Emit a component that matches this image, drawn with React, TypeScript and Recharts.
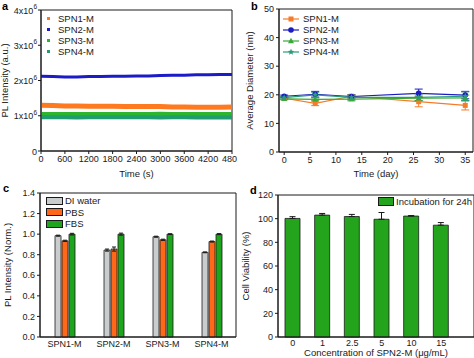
import React from "react";
import {
  LineChart,
  Line,
  BarChart,
  Bar,
  XAxis,
  YAxis,
  CartesianGrid,
  ErrorBar,
  Legend,
} from "recharts";

const FONT = "'Liberation Sans', Arial, sans-serif";
const INK = "#1a1a1a";

// a: PL intensity over time (x10^6)
const timeSec = [0, 300, 600, 900, 1200, 1500, 1800, 2100, 2400, 2700, 3000, 3300, 3600, 3900, 4200, 4500, 4800];
const spn1Pl = [1.3, 1.29, 1.28, 1.28, 1.27, 1.27, 1.27, 1.26, 1.26, 1.26, 1.26, 1.25, 1.25, 1.24, 1.24, 1.24, 1.25];
const spn2Pl = [2.12, 2.11, 2.1, 2.1, 2.11, 2.11, 2.12, 2.12, 2.13, 2.13, 2.14, 2.15, 2.15, 2.16, 2.16, 2.17, 2.17];
const spn3Pl = [1.05, 1.05, 1.05, 1.05, 1.05, 1.05, 1.05, 1.05, 1.05, 1.05, 1.06, 1.05, 1.05, 1.05, 1.05, 1.05, 1.05];
const spn4Pl = [0.96, 0.96, 0.96, 0.95, 0.96, 0.96, 0.96, 0.96, 0.96, 0.96, 0.95, 0.96, 0.96, 0.95, 0.95, 0.95, 0.95];
const timeTicks = [0, 600, 1200, 1800, 2400, 3000, 3600, 4200, 4800];
const timeMinor = [300, 900, 1500, 2100, 2700, 3300, 3900, 4500];
const plTicks = [0, 1, 2, 3, 4];
const plMinor = [0.5, 1.5, 2.5, 3.5];

// b: average diameter over days
const days = [0, 6, 13, 26, 35];
const spn1Dia = [18.8, 17.0, 19.5, 17.6, 16.3];
const spn1Err = [0.5, 0.8, 0.6, 1.8, 1.6];
const spn2Dia = [19.5, 20.2, 19.4, 20.5, 19.9];
const spn2Err = [0.4, 1.0, 0.5, 1.5, 1.3];
const spn3Dia = [18.6, 18.4, 18.5, 18.8, 18.9];
const spn3Err = [0.3, 0.5, 0.6, 0.8, 1.0];
const spn4Dia = [19.0, 20.0, 19.1, 19.1, 19.5];
const spn4Err = [0.4, 0.9, 0.8, 1.2, 1.5];
const dayTicks = [0, 5, 10, 15, 20, 25, 30, 35];
const dayMinor = [2.5, 7.5, 12.5, 17.5, 22.5, 27.5, 32.5];
const diaTicks = [0, 10, 20, 30, 40, 50];
const diaMinor = [5, 15, 25, 35, 45];

// c: normalised PL in media
const samples = ["SPN1-M", "SPN2-M", "SPN3-M", "SPN4-M"];
const diWater = [0.985, 0.845, 0.975, 0.823];
const diWaterErr = [0.005, 0.01, 0.005, 0.004];
const pbs = [0.935, 0.855, 0.945, 0.928];
const pbsErr = [0.006, 0.02, 0.006, 0.005];
const fbs = [1.0, 1.0, 1.0, 1.0];
const fbsErr = [0.008, 0.01, 0.004, 0.005];
const normTicks = [0, 0.2, 0.4, 0.6, 0.8, 1.0, 1.2, 1.4];
const normMinor = [0.1, 0.3, 0.5, 0.7, 0.9, 1.1, 1.3];

// d: cell viability
const concentrations = ["0", "1", "2.5", "5", "10", "15"];
const viability = [100.2, 103, 101.8, 99.5, 102.2, 94.5];
const viabilityErr = [1.5, 1.4, 1.8, 5.7, 0.4, 2.2];
const viaTicks = [0, 20, 40, 60, 80, 100, 120];
const viaMinor = [10, 30, 50, 70, 90, 110];

const seriesA = [
  { key: "s1", name: "SPN1-M", color: "#ff7a1f", values: spn1Pl, width: 5 },
  { key: "s2", name: "SPN2-M", color: "#1b1bc8", values: spn2Pl, width: 3 },
  { key: "s3", name: "SPN3-M", color: "#2db52d", values: spn3Pl, width: 4 },
  { key: "s4", name: "SPN4-M", color: "#1f9c70", values: spn4Pl, width: 4 },
];

const seriesB = [
  { key: "s1", name: "SPN1-M", color: "#f57b28", values: spn1Dia, err: spn1Err, shape: "square" },
  { key: "s2", name: "SPN2-M", color: "#1c1cc0", values: spn2Dia, err: spn2Err, shape: "circle" },
  { key: "s3", name: "SPN3-M", color: "#38a838", values: spn3Dia, err: spn3Err, shape: "triangle" },
  { key: "s4", name: "SPN4-M", color: "#2a9a7c", values: spn4Dia, err: spn4Err, shape: "star" },
];

const seriesC = [
  { key: "di", name: "DI water", color: "#c9cdcd", values: diWater, err: diWaterErr },
  { key: "pbs", name: "PBS", color: "#ff6818", values: pbs, err: pbsErr },
  { key: "fbs", name: "FBS", color: "#1ea51e", values: fbs, err: fbsErr },
];

const dataA = timeSec.map((t, i) => {
  const row: any = { t };
  seriesA.forEach((s) => (row[s.key] = s.values[i]));
  return row;
});

const dataB = days.map((d, i) => {
  const row: any = { d };
  seriesB.forEach((s) => {
    row[s.key] = s.values[i];
    row[s.key + "e"] = s.err[i];
  });
  return row;
});

const dataC = samples.map((name, i) => {
  const row: any = { name };
  seriesC.forEach((s) => {
    row[s.key] = s.values[i];
    row[s.key + "e"] = s.err[i];
  });
  return row;
});

const dataD = concentrations.map((c, i) => ({
  c,
  v: viability[i],
  e: [0, viabilityErr[i]],
}));

const tickStyle = { fontSize: 9, fill: INK, fontFamily: FONT };
const titleStyle = { fontSize: 9.5, fill: INK, fontFamily: FONT };
const axisLine = { stroke: INK, strokeWidth: 1 };

// box round the plot area
const frameH = ({ offset }: any) => [offset.top, offset.top + offset.height];
const frameV = ({ offset }: any) => [offset.left, offset.left + offset.width];

function frame() {
  return (
    <CartesianGrid
      horizontalCoordinatesGenerator={frameH}
      verticalCoordinatesGenerator={frameV}
      stroke={INK}
      strokeWidth={1}
      fill="none"
    />
  );
}

// unlabelled axes that only carry the minor ticks
function minorX(domain: number[], ticks: number[]) {
  return (
    <XAxis
      xAxisId="minor"
      type="number"
      domain={domain}
      allowDataOverflow
      ticks={ticks}
      interval={0}
      tick={false}
      axisLine={false}
      tickLine={axisLine}
      tickSize={2}
      height={0}
    />
  );
}

function minorY(domain: number[], ticks: number[]) {
  return (
    <YAxis
      yAxisId="minor"
      type="number"
      domain={domain}
      allowDataOverflow
      ticks={ticks}
      interval={0}
      tick={false}
      axisLine={false}
      tickLine={axisLine}
      tickSize={2}
      width={0}
    />
  );
}

function SciTick({ x, y, payload }: any) {
  const v = payload.value;
  return (
    <text x={x} y={y} dy={3.5} textAnchor="end" style={tickStyle}>
      {v === 0 ? (
        "0"
      ) : (
        <>
          <tspan>{v}x10</tspan>
          <tspan dy={-4.5} fontSize={6.5}>
            6
          </tspan>
        </>
      )}
    </text>
  );
}

function Marker({ cx, cy, color, shape }: any) {
  if (cx == null || cy == null) return null;
  if (shape === "square") return <rect x={cx - 2.5} y={cy - 2.5} width={5} height={5} fill={color} />;
  if (shape === "circle") return <circle cx={cx} cy={cy} r={2.8} fill={color} />;
  if (shape === "triangle")
    return <polygon points={`${cx},${cy - 3.2} ${cx + 3},${cy + 2.2} ${cx - 3},${cy + 2.2}`} fill={color} />;
  const pts: string[] = [];
  for (let k = 0; k < 10; k++) {
    const r = k % 2 === 0 ? 3.4 : 1.5;
    const a = (Math.PI / 5) * k - Math.PI / 2;
    pts.push(`${cx + r * Math.cos(a)},${cy + r * Math.sin(a)}`);
  }
  return <polygon points={pts.join(" ")} fill={color} />;
}

const legendText = {
  fontSize: 9.5,
  color: INK,
  fontFamily: FONT,
  lineHeight: "11px",
  whiteSpace: "nowrap" as const,
};

function LegendA() {
  return (
    <div style={legendText}>
      {seriesA.map((s) => (
        <div key={s.key} style={{ display: "flex", alignItems: "center", height: 11 }}>
          <span style={{ width: 3, height: 3, background: s.color, marginRight: 8 }} />
          {s.name}
        </div>
      ))}
    </div>
  );
}

function LegendB() {
  return (
    <div style={legendText}>
      {seriesB.map((s) => (
        <div key={s.key} style={{ display: "flex", alignItems: "center", height: 11 }}>
          <svg width={16} height={10} style={{ marginRight: 4 }}>
            <line x1={0} x2={16} y1={5} y2={5} stroke={s.color} strokeWidth={1.2} />
            <Marker cx={8} cy={5} color={s.color} shape={s.shape} />
          </svg>
          {s.name}
        </div>
      ))}
    </div>
  );
}

function LegendC() {
  return (
    <div style={legendText}>
      {seriesC.map((s) => (
        <div key={s.key} style={{ display: "flex", alignItems: "center", height: 11.5 }}>
          <span
            style={{
              width: 15,
              height: 6,
              background: s.color,
              border: `1px solid ${INK}`,
              marginRight: 2,
            }}
          />
          {s.name}
        </div>
      ))}
    </div>
  );
}

function LegendD() {
  return (
    <div style={{ ...legendText, display: "flex", alignItems: "center" }}>
      <span
        style={{
          width: 14,
          height: 7,
          background: "#23a41c",
          border: `1px solid ${INK}`,
          marginRight: 2,
        }}
      />
      Incubation for 24h
    </div>
  );
}

const panelLetter = (left: number, top: number, ch: string) => (
  <div
    style={{
      position: "absolute",
      left,
      top,
      fontFamily: FONT,
      fontWeight: "bold",
      fontSize: 11,
      lineHeight: "11px",
      color: "#000",
    }}
  >
    {ch}
  </div>
);

export default function App() {
  return (
    <div
      style={{
        position: "absolute",
        left: 0,
        top: 0,
        width: 474,
        height: 358,
        background: "#fff",
        overflow: "hidden",
      }}
    >
      {/* a */}
      <div style={{ position: "absolute", left: 0, top: 0 }}>
        <LineChart width={237} height={180} data={dataA} margin={{ top: 10, right: 5, bottom: 0, left: 0 }}>
          {frame()}
          {minorX([0, 4800], timeMinor)}
          {minorY([0, 4], plMinor)}
          <XAxis
            dataKey="t"
            type="number"
            domain={[0, 4800]}
            ticks={timeTicks}
            interval={0}
            tick={tickStyle}
            axisLine={axisLine}
            tickLine={axisLine}
            tickSize={3}
            tickMargin={2}
            height={29}
            label={{ value: "Time (s)", position: "insideBottom", offset: 3, style: titleStyle }}
          />
          <YAxis
            type="number"
            domain={[0, 4]}
            ticks={plTicks}
            interval={0}
            tick={<SciTick />}
            axisLine={axisLine}
            tickLine={axisLine}
            tickSize={3}
            tickMargin={1}
            width={41}
            label={{
              value: "PL Intensity (a.u.)",
              angle: -90,
              position: "insideLeft",
              offset: 5,
              style: { ...titleStyle, textAnchor: "middle" },
            }}
          />
          {seriesA.map((s) => (
            <Line
              key={s.key}
              dataKey={s.key}
              name={s.name}
              stroke={s.color}
              strokeWidth={s.width}
              dot={false}
              isAnimationActive={false}
            />
          ))}
          <Legend
            layout="vertical"
            align="center"
            verticalAlign="middle"
            content={<LegendA />}
            wrapperStyle={{ left: 47, top: 13, width: "auto" }}
          />
        </LineChart>
      </div>

      {/* b */}
      <div style={{ position: "absolute", left: 237, top: 0 }}>
        <LineChart width={237} height={180} data={dataB} margin={{ top: 9, right: 1, bottom: 0, left: 0 }}>
          {frame()}
          {minorX([-1, 36.5], dayMinor)}
          {minorY([0, 50], diaMinor)}
          <XAxis
            dataKey="d"
            type="number"
            domain={[-1, 36.5]}
            allowDataOverflow
            ticks={dayTicks}
            interval={0}
            tick={tickStyle}
            axisLine={axisLine}
            tickLine={axisLine}
            tickSize={3}
            tickMargin={2}
            height={28}
            label={{ value: "Time (day)", position: "insideBottom", offset: 3, style: titleStyle }}
          />
          <YAxis
            type="number"
            domain={[0, 50]}
            ticks={diaTicks}
            interval={0}
            tick={tickStyle}
            axisLine={axisLine}
            tickLine={axisLine}
            tickSize={3}
            tickMargin={2}
            width={42}
            label={{
              value: "Average Diameter (nm)",
              angle: -90,
              position: "insideLeft",
              offset: 13,
              style: { ...titleStyle, textAnchor: "middle" },
            }}
          />
          {seriesB.map((s) => (
            <Line
              key={s.key}
              dataKey={s.key}
              name={s.name}
              stroke={s.color}
              strokeWidth={1.2}
              dot={(p: any) => <Marker key={p.index} cx={p.cx} cy={p.cy} color={s.color} shape={s.shape} />}
              isAnimationActive={false}
            >
              <ErrorBar dataKey={s.key + "e"} width={4} stroke={s.color} strokeWidth={1} direction="y" />
            </Line>
          ))}
          <Legend
            layout="vertical"
            align="center"
            verticalAlign="middle"
            content={<LegendB />}
            wrapperStyle={{ left: 46, top: 13, width: "auto" }}
          />
        </LineChart>
      </div>

      {/* c */}
      <div style={{ position: "absolute", left: 0, top: 175 }}>
        <BarChart
          width={237}
          height={183}
          data={dataC}
          margin={{ top: 18, right: 1, bottom: 0, left: 0 }}
          barSize={6}
          barGap={1}
        >
          {frame()}
          {minorY([0, 1.4], normMinor)}
          <XAxis
            dataKey="name"
            tick={tickStyle}
            axisLine={axisLine}
            tickLine={false}
            tickSize={0}
            tickMargin={4}
            height={21}
          />
          <YAxis
            type="number"
            domain={[0, 1.4]}
            ticks={normTicks}
            interval={0}
            tickFormatter={(v: number) => v.toFixed(1)}
            tick={tickStyle}
            axisLine={axisLine}
            tickLine={axisLine}
            tickSize={3}
            tickMargin={2}
            width={40}
            label={{
              value: "PL Intensity (Norm.)",
              angle: -90,
              position: "insideLeft",
              offset: 8,
              style: { ...titleStyle, textAnchor: "middle" },
            }}
          />
          {seriesC.map((s) => (
            <Bar
              key={s.key}
              dataKey={s.key}
              name={s.name}
              fill={s.color}
              stroke={INK}
              strokeWidth={0.8}
              isAnimationActive={false}
            >
              <ErrorBar dataKey={s.key + "e"} width={2} stroke={INK} strokeWidth={1} />
            </Bar>
          ))}
          <Legend
            layout="vertical"
            align="center"
            verticalAlign="middle"
            content={<LegendC />}
            wrapperStyle={{ left: 46, top: 20, width: "auto" }}
          />
        </BarChart>
      </div>

      {/* d */}
      <div style={{ position: "absolute", left: 237, top: 175 }}>
        <BarChart
          width={237}
          height={183}
          data={dataD}
          margin={{ top: 20, right: 0, bottom: 0, left: 0 }}
          barSize={15}
        >
          {frame()}
          {minorY([0, 120], viaMinor)}
          <XAxis
            dataKey="c"
            tick={tickStyle}
            axisLine={axisLine}
            tickLine={false}
            tickSize={0}
            tickMargin={3}
            padding={{ left: 0, right: 18 }}
            height={21}
            label={{
              value: "Concentration of SPN2-M (μg/mL)",
              position: "insideBottom",
              offset: 2,
              style: titleStyle,
            }}
          />
          <YAxis
            type="number"
            domain={[0, 120]}
            ticks={viaTicks}
            interval={0}
            tick={tickStyle}
            axisLine={axisLine}
            tickLine={axisLine}
            tickSize={3}
            tickMargin={2}
            width={41}
            label={{
              value: "Cell Viability (%)",
              angle: -90,
              position: "insideLeft",
              offset: 9,
              style: { ...titleStyle, textAnchor: "middle" },
            }}
          />
          <Bar dataKey="v" name="Incubation for 24h" fill="#23a41c" stroke={INK} strokeWidth={0.8} isAnimationActive={false}>
            <ErrorBar dataKey="e" width={3} stroke={INK} strokeWidth={1} />
          </Bar>
          <Legend
            layout="vertical"
            align="center"
            verticalAlign="middle"
            content={<LegendD />}
            wrapperStyle={{ left: 141, top: 21, width: "auto" }}
          />
        </BarChart>
      </div>

      {panelLetter(2, 1, "a")}
      {panelLetter(251, 1, "b")}
      {panelLetter(3, 183, "c")}
      {panelLetter(250, 185, "d")}
    </div>
  );
}
